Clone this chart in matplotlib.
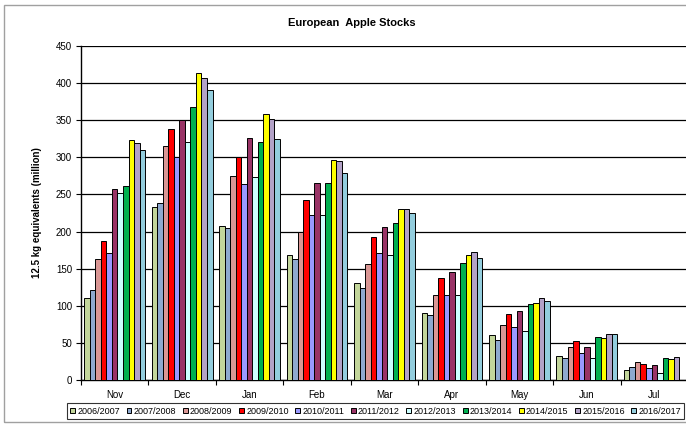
import numpy as np
import matplotlib
matplotlib.use("Agg")
import matplotlib.pyplot as plt
from matplotlib.patches import Rectangle

plt.rcParams['font.family'] = ['Liberation Sans', 'DejaVu Sans']

months = ["Nov", "Dec", "Jan", "Feb", "Mar", "Apr", "May", "Jun", "Jul"]
seasons = ["2006/2007", "2007/2008", "2008/2009", "2009/2010", "2010/2011", "2011/2012",
           "2012/2013", "2013/2014", "2014/2015", "2015/2016", "2016/2017"]

s2006 = [110, 233, 207, 168, 131, 90, 60, 32, 14]
s2007 = [121, 238, 205, 163, 124, 88, 54, 29, 17]
s2008 = [163, 315, 275, 199, 156, 114, 74, 44, 24]
s2009 = [187, 338, 301, 242, 192, 138, 89, 53, 22]
s2010 = [171, 301, 264, 222, 171, 115, 72, 37, 16]
s2011 = [257, 350, 326, 265, 206, 146, 93, 45, 20]
s2012 = [252, 320, 274, 222, 168, 115, 66, 30, 10]
s2013 = [262, 368, 321, 266, 211, 157, 102, 58, 30]
s2014 = [324, 413, 359, 296, 231, 168, 104, 57, 28]
s2015 = [319, 407, 352, 295, 231, 172, 111, 62, 31]
s2016 = [310, 391, 325, 279, 225, 164, 107, 62, np.nan]

values = [s2006, s2007, s2008, s2009, s2010, s2011, s2012, s2013, s2014, s2015, s2016]
colors = ["#C3D69B", "#8EA9CF", "#D99694", "#FF0000", "#9999FF", "#993366",
          "#CCFFFF", "#00B050", "#FFFF00", "#B3A2C7", "#93CDDD"]

W, H = 686, 425
fig = plt.figure(figsize=(W / 100, H / 100), dpi=100)

# outer border
fig.patches.append(Rectangle((4 / W, 3 / H), (W + 10) / W, (H - 8) / H,
                             transform=fig.transFigure, fill=False,
                             edgecolor="#A0A0A0", linewidth=1.0))

left, top, bottom, right = 81, 46, 380, 688
ax = fig.add_axes([left / W, (H - bottom) / H, (right - left) / W, (bottom - top) / H])

n = len(seasons)
x = np.arange(len(months))
bw = 0.9 / n
for i, (vals, c, lab) in enumerate(zip(values, colors, seasons)):
    off = -0.45 + bw * (i + 0.5)
    ax.bar(x + off, vals, width=bw, color=c, edgecolor="black", linewidth=0.7,
           label=lab, zorder=3)

ax.set_xlim(-0.5, len(months) - 0.5)
ax.set_ylim(0, 450)
ax.set_yticks(np.arange(0, 451, 50))
ax.yaxis.grid(True, color="black", linewidth=0.9, zorder=0)
ax.set_axisbelow(True)
ax.set_xticks(x)
ax.set_xticklabels(months)
ax.set_xticks(np.arange(-0.5, len(months), 1), minor=True)
ax.tick_params(axis="x", which="major", length=0, labelsize=7, pad=7)
ax.tick_params(axis="x", which="minor", length=3.5, width=0.8, direction="out")
ax.tick_params(axis="y", length=3.5, width=0.8, labelsize=7, pad=3)
for s in ["top", "right"]:
    ax.spines[s].set_visible(False)
for s in ["left", "bottom"]:
    ax.spines[s].set_linewidth(1.0)
    ax.spines[s].set_color("black")

ax.set_ylabel("12.5 kg equivalents (million)", fontsize=7, fontweight="bold", labelpad=10)
fig.text(352 / W, 1 - 23 / H, "European  Apple Stocks",
         ha="center", va="center", fontsize=8, fontweight="bold")

leg = fig.legend(loc="center left", bbox_to_anchor=(67 / W, 1 - 411 / H), ncol=n,
                 fontsize=6.5, frameon=True, fancybox=False, handlelength=0.55,
                 handleheight=0.55, handletextpad=0.25, columnspacing=0.72,
                 borderpad=0.35, borderaxespad=0)
leg.get_frame().set_edgecolor("black")
leg.get_frame().set_linewidth(0.8)

fig.savefig("out.png", dpi=100)
